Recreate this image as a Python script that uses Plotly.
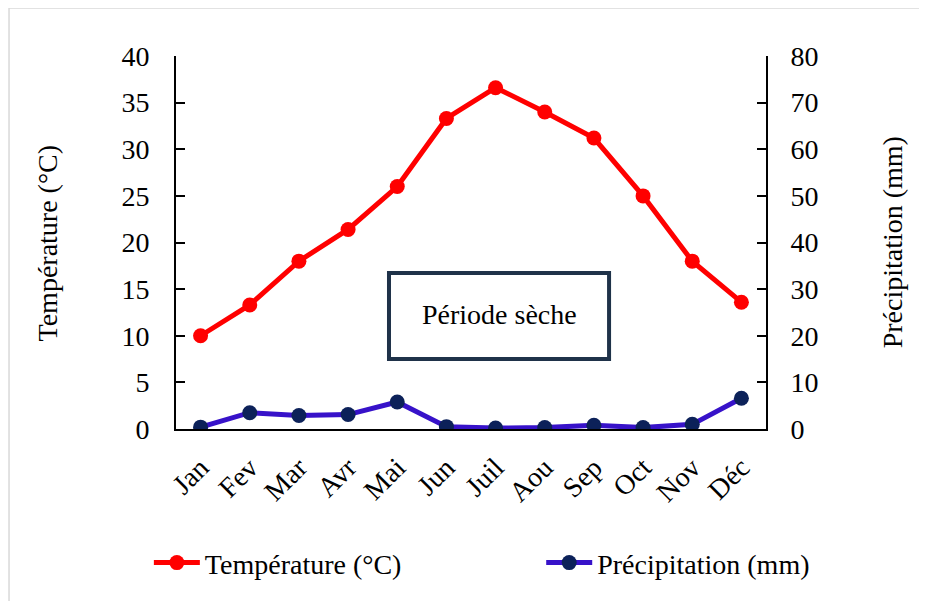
import plotly.graph_objects as go

months = ["Jan", "Fev", "Mar", "Avr", "Mai", "Jun", "Juil", "Aou", "Sep", "Oct", "Nov", "Déc"]
temperature = [10.0, 13.3, 18.0, 21.4, 26.0, 33.3, 36.6, 34.0, 31.2, 25.0, 18.0, 13.6]
precipitation = [0.4, 3.5, 2.9, 3.1, 5.8, 0.5, 0.2, 0.3, 0.8, 0.3, 1.0, 6.6]

FONT = "Liberation Serif"
FS = 28

fig = go.Figure()
fig.add_trace(go.Scatter(
    x=months, y=temperature, name="Température (°C)", mode="lines+markers",
    line=dict(color="#FF0000", width=5), marker=dict(color="#FF0000", size=15),
    legend="legend",
))
fig.add_trace(go.Scatter(
    x=months, y=precipitation, name="Précipitation (mm)", mode="lines+markers",
    line=dict(color="#3712C9", width=5), marker=dict(color="#0C2159", size=15),
    yaxis="y2", legend="legend2",
))

axis_common = dict(
    showgrid=False, zeroline=False, showline=True, linecolor="black", linewidth=2,
    ticks="inside", ticklen=9, tickwidth=2, tickcolor="black", automargin=False,
    tickfont=dict(family=FONT, size=FS, color="black"),
)

legend_common = dict(
    orientation="h", y=-0.359, yanchor="middle", xanchor="left", itemwidth=46,
    font=dict(family=FONT, size=FS, color="black"), bgcolor="rgba(0,0,0,0)",
)

fig.update_layout(
    width=927, height=601,
    paper_bgcolor="white", plot_bgcolor="white",
    margin=dict(l=168, r=169, t=48, b=180, autoexpand=False),
    font=dict(family=FONT, size=FS, color="black"),
    xaxis=dict(
        range=[-0.5, 11.5],
        showgrid=False, zeroline=False, showline=True, linecolor="black", linewidth=2,
        ticks="", tickangle=-45, automargin=False, ticklabelstandoff=9,
        tickfont=dict(family=FONT, size=FS, color="black"),
    ),
    yaxis=dict(range=[0, 40], dtick=5, ticklabelstandoff=19, **axis_common),
    yaxis2=dict(range=[0, 80], dtick=10, overlaying="y", side="right",
                ticklabelstandoff=17, **axis_common),
    showlegend=True,
    legend=dict(x=-0.046, **legend_common),
    legend2=dict(x=0.619, **legend_common),
    shapes=[
        dict(type="rect", xref="paper", yref="paper", x0=0.361, x1=0.734, y0=0.188, y1=0.418,
             line=dict(color="#1F3249", width=4), fillcolor="white", layer="below"),
        dict(type="rect", xref="paper", yref="paper", x0=-0.283, x1=1.3, y0=-0.5, y1=1.129,
             line=dict(color="#D9D9D9", width=1.5)),
    ],
    annotations=[
        dict(text="Période sèche", xref="paper", yref="paper", x=0.5475, y=0.308,
             xanchor="center", yanchor="middle", showarrow=False,
             font=dict(family=FONT, size=FS, color="black")),
        dict(text="Température (°C)", xref="paper", yref="paper", x=-0.217, y=0.5,
             xanchor="center", yanchor="middle", textangle=-90, showarrow=False,
             font=dict(family=FONT, size=FS, color="black")),
        dict(text="Précipitation (mm)", xref="paper", yref="paper", x=1.215, y=0.5,
             xanchor="center", yanchor="middle", textangle=-90, showarrow=False,
             font=dict(family=FONT, size=FS, color="black")),
    ],
)

fig.write_html("out.html")
